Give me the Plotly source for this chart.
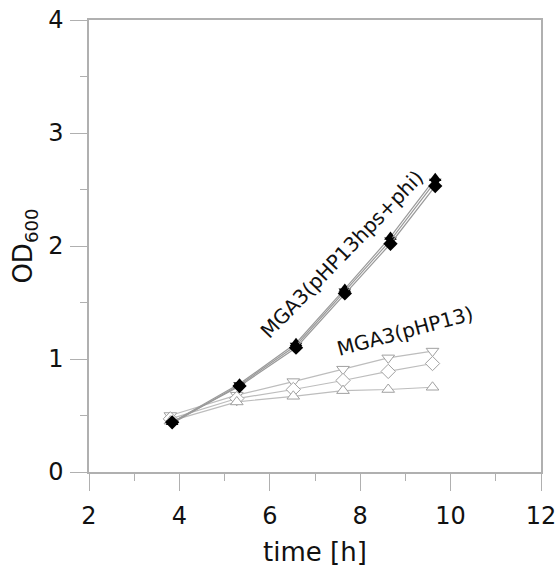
import plotly.graph_objects as go

t_black = [3.84, 5.33, 6.58, 7.66, 8.67, 9.66]
od_black_up = [0.44, 0.78, 1.14, 1.62, 2.08, 2.60]
od_black_down = [0.43, 0.77, 1.12, 1.60, 2.05, 2.57]
od_black_dia = [0.44, 0.76, 1.10, 1.58, 2.02, 2.53]

t_open = [3.80, 5.27, 6.52, 7.62, 8.62, 9.60]
od_open_down = [0.50, 0.68, 0.80, 0.91, 1.01, 1.07]
od_open_dia = [0.47, 0.65, 0.73, 0.81, 0.89, 0.96]
od_open_up = [0.45, 0.62, 0.67, 0.72, 0.73, 0.75]

fig = go.Figure()

FONT = "DejaVu Sans"

for y, sym in [(od_open_down, "triangle-down"), (od_open_dia, "diamond"), (od_open_up, "triangle-up")]:
    fig.add_trace(go.Scatter(
        x=t_open, y=y, mode="lines+markers",
        line=dict(color="#bdbdbd", width=1.2),
        marker=dict(symbol=sym, size=11, color="white", line=dict(color="#a0a0a0", width=1)),
        showlegend=False))

for y, sym in [(od_black_up, "triangle-up"), (od_black_down, "triangle-down"), (od_black_dia, "diamond")]:
    fig.add_trace(go.Scatter(
        x=t_black, y=y, mode="lines+markers",
        line=dict(color="#9a9a9a", width=1.2),
        marker=dict(symbol=sym, size=11, color="black", line=dict(color="black", width=0)),
        showlegend=False))

fig.add_annotation(x=7.6, y=1.93, text="MGA3(pHP13hps+phi)", showarrow=False,
                   textangle=-46, font=dict(family=FONT, size=20, color="#111"))
fig.add_annotation(x=9.0, y=1.25, text="MGA3(pHP13)", showarrow=False,
                   textangle=-15, font=dict(family=FONT, size=20, color="#111"))

axis_common = dict(showgrid=False, zeroline=False, showline=True, linecolor="#b0b0b0",
                   linewidth=1.5, mirror=True, ticks="outside", ticklen=17, tickwidth=1,
                   tickcolor="#b0b0b0", automargin=False,
                   tickfont=dict(family=FONT, size=24, color="#111"))

fig.update_xaxes(range=[2, 12], dtick=2, tick0=2, ticklabelstandoff=4,
                 minor=dict(dtick=1, ticklen=7, ticks="outside", tickcolor="#b0b0b0", tickwidth=1),
                 title=dict(text="time [h]", font=dict(family=FONT, size=26, color="#111"), standoff=16),
                 **axis_common)
fig.update_yaxes(range=[0, 4], dtick=1, tick0=0, ticklabelstandoff=2,
                 minor=dict(dtick=0.5, ticklen=7, ticks="outside", tickcolor="#b0b0b0", tickwidth=1),
                 title=dict(text="OD<sub>600</sub>", font=dict(family=FONT, size=26, color="#111"), standoff=8),
                 **axis_common)

fig.update_layout(width=558, height=567, margin=dict(l=89, r=17, t=20, b=95),
                  plot_bgcolor="white", paper_bgcolor="white")

fig.write_html("out.html", config={"displayModeBar": False},
               post_script="document.body.style.margin='0';document.body.style.padding='0';")
